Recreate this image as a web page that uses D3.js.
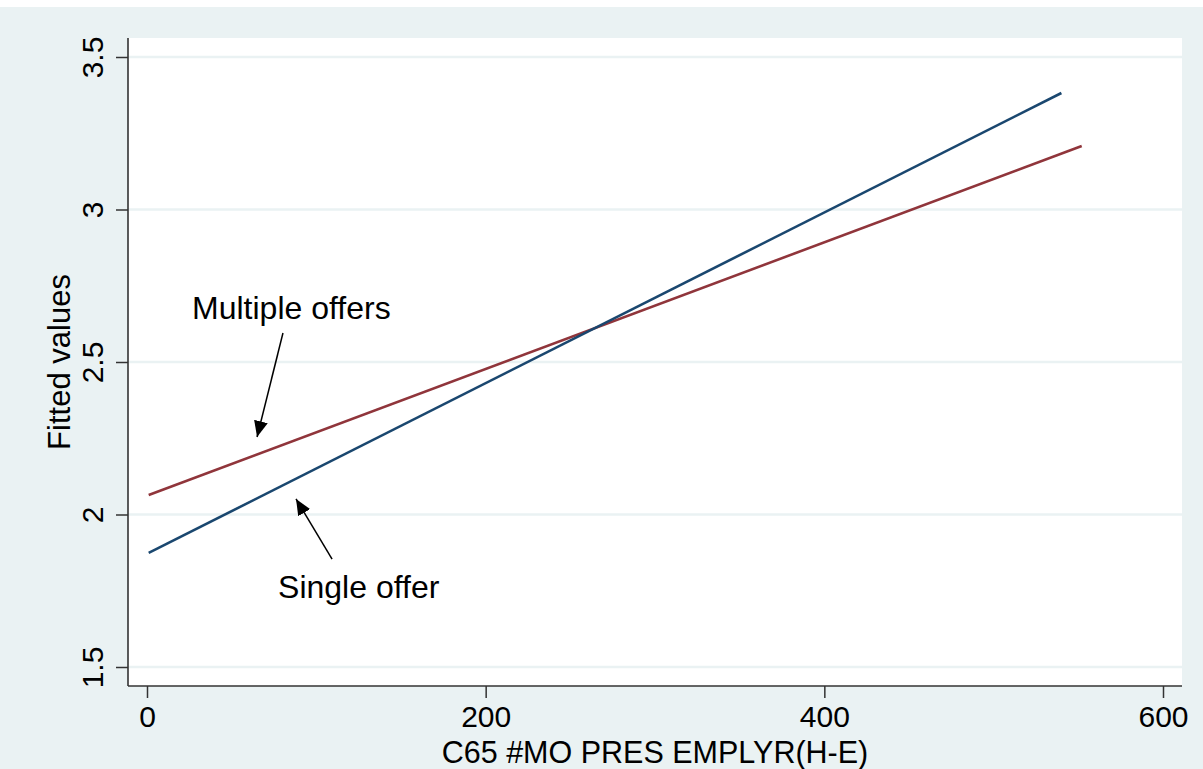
<!DOCTYPE html>
<html>
<head>
<meta charset="utf-8">
<script src="https://cdn.jsdelivr.net/npm/d3@7"></script>
<style>
  html, body { margin: 0; padding: 0; background: #ffffff; }
  svg { display: block; font-family: "Liberation Sans", Arial, Helvetica, sans-serif; }
</style>
</head>
<body>
<svg id="chart" width="1203" height="769"></svg>
<script>
// Fitted-value lines (endpoints of each linear fit)
const singleX = [1, 540];
const singleY = [1.874, 3.382];
const multipleX = [1, 552];
const multipleY = [2.064, 3.208];

// Axis ticks
const xTicks = [0, 200, 400, 600];
const yTicks = [1.5, 2, 2.5, 3, 3.5];
const yTickLabels = ["1.5", "2", "2.5", "3", "3.5"];

// Annotation labels and their arrows (data coordinates)
const noteLabels = ["Multiple offers", "Single offer"];
const noteTextX = [26.6, 77.4];
const noteTextY = [2.641, 1.726];
const arrowFromX = [80.3, 109.3];
const arrowFromY = [2.595, 1.854];
const arrowToX = [65.0, 88.0];
const arrowToY = [2.254, 2.051];

const W = 1203, H = 769;
const region = { left: 128, right: 1182, top: 38, bottom: 686 };

const svg = d3.select("#chart");

// Outer graph background
svg.append("rect").attr("x", 0).attr("y", 0).attr("width", W).attr("height", H).attr("fill", "#ffffff");
svg.append("rect").attr("x", 0).attr("y", 7).attr("width", W).attr("height", H - 7).attr("fill", "#eaf2f3");

// Plot region
svg.append("rect")
  .attr("x", region.left).attr("y", region.top)
  .attr("width", region.right - region.left).attr("height", region.bottom - region.top)
  .attr("fill", "#ffffff");

const x = d3.scaleLinear().domain([0, 600]).range([147, 1163]);
const y = d3.scaleLinear().domain([1.5, 3.5]).range([667, 57]);

// Horizontal grid lines
svg.append("g").selectAll("line").data(yTicks).join("line")
  .attr("x1", region.left).attr("x2", region.right)
  .attr("y1", d => y(d)).attr("y2", d => y(d))
  .attr("stroke", "#eaf2f3").attr("stroke-width", 2.5);

// Y axis
const yAxis = d3.axisLeft(y).tickValues(yTicks)
  .tickFormat((d, i) => yTickLabels[i]).tickSize(12).tickPadding(0);
const gy = svg.append("g").attr("transform", `translate(${region.left},0)`).call(yAxis);
gy.select(".domain").remove();
gy.selectAll(".tick line").attr("stroke", "#333333").attr("stroke-width", 1.5);
gy.selectAll(".tick text")
  .attr("x", null).attr("dy", null)
  .attr("transform", "translate(-25,0) rotate(-90)")
  .attr("text-anchor", "middle")
  .attr("fill", "#000000")
  .style("font-size", "30px");
svg.append("line")
  .attr("x1", region.left).attr("x2", region.left)
  .attr("y1", region.top).attr("y2", region.bottom)
  .attr("stroke", "#333333").attr("stroke-width", 1.6);

// X axis
const xAxis = d3.axisBottom(x).tickValues(xTicks).tickFormat(d3.format("d")).tickSize(12).tickPadding(0);
const gx = svg.append("g").attr("transform", `translate(0,${region.bottom})`).call(xAxis);
gx.select(".domain").remove();
gx.selectAll(".tick line").attr("stroke", "#333333").attr("stroke-width", 1.5);
gx.selectAll(".tick text")
  .attr("y", 41).attr("dy", null)
  .attr("fill", "#000000")
  .style("font-size", "30px");
svg.append("line")
  .attr("x1", region.left).attr("x2", region.right)
  .attr("y1", region.bottom).attr("y2", region.bottom)
  .attr("stroke", "#333333").attr("stroke-width", 1.6);

// Axis titles
svg.append("text")
  .attr("x", (region.left + region.right) / 2).attr("y", 763)
  .attr("text-anchor", "middle").style("font-size", "30.5px").attr("fill", "#000")
  .text("C65 #MO PRES EMPLYR(H-E)");
svg.append("text")
  .attr("transform", `translate(70,${(region.top + region.bottom) / 2}) rotate(-90)`)
  .attr("text-anchor", "middle").style("font-size", "31px").attr("fill", "#000")
  .text("Fitted values");

// Fitted lines
const line = d3.line().x(d => x(d[0])).y(d => y(d[1]));
svg.append("path")
  .datum(d3.zip(multipleX, multipleY))
  .attr("d", line).attr("fill", "none")
  .attr("stroke", "#90353b").attr("stroke-width", 2.6);
svg.append("path")
  .datum(d3.zip(singleX, singleY))
  .attr("d", line).attr("fill", "none")
  .attr("stroke", "#1a476f").attr("stroke-width", 2.6);

// Arrowhead marker
svg.append("defs").append("marker")
  .attr("id", "arrowhead")
  .attr("viewBox", "0 0 16 14")
  .attr("refX", 16).attr("refY", 7)
  .attr("markerWidth", 16).attr("markerHeight", 14)
  .attr("markerUnits", "userSpaceOnUse")
  .attr("orient", "auto")
  .append("path").attr("d", "M0,0 L16,7 L0,14 Z").attr("fill", "#000");

// Annotation arrows
svg.append("g").selectAll("line").data(d3.range(noteLabels.length)).join("line")
  .attr("x1", i => x(arrowFromX[i])).attr("y1", i => y(arrowFromY[i]))
  .attr("x2", i => x(arrowToX[i])).attr("y2", i => y(arrowToY[i]))
  .attr("stroke", "#000").attr("stroke-width", 1.5)
  .attr("marker-end", "url(#arrowhead)");

// Annotation labels
svg.append("g").selectAll("text").data(d3.range(noteLabels.length)).join("text")
  .attr("x", i => x(noteTextX[i])).attr("y", i => y(noteTextY[i]))
  .style("font-size", "32px").attr("fill", "#000")
  .text(i => noteLabels[i]);
</script>
</body>
</html>
